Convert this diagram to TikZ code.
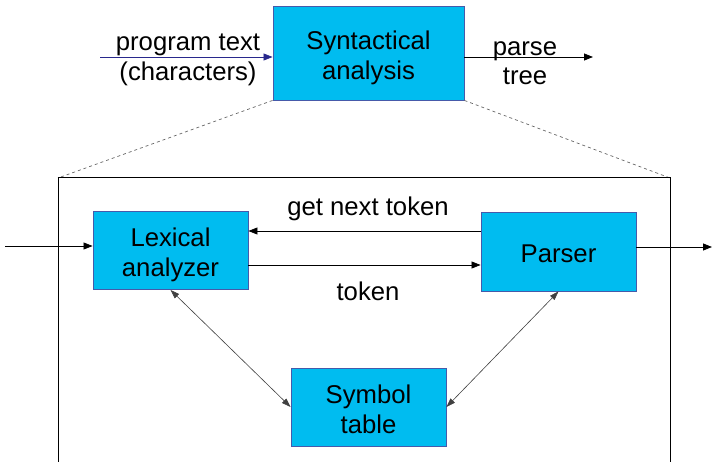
\documentclass[tikz,border=0pt]{standalone}
\usepackage{fontspec}
\setmainfont{Liberation Sans}
\usetikzlibrary{arrows.meta,calc}
\definecolor{boxfill}{RGB}{0,188,240}
\definecolor{boxline}{RGB}{70,90,170}
\definecolor{navy}{RGB}{40,40,140}
\newcommand{\bt}[2][-5.3pt]{\raisebox{#1}[\height][\depth]{\begin{tabular}{@{}c@{}}#2\end{tabular}}}
\begin{document}
\begin{tikzpicture}[x=1pt,y=-1pt,
  blk/.style={draw=boxline,fill=boxfill,line width=0.9pt,minimum width=155pt,minimum height=78pt,inner sep=0pt,align=center,font=\fontsize{25.7}{30}\selectfont},
  lbl/.style={anchor=base,inner sep=0pt,font=\fontsize{25.7}{30}\selectfont},
  arr/.style={-{Triangle[length=9pt,width=7pt]},line width=0.8pt},
  darr/.style={{Triangle[length=9pt,width=6pt]}-{Triangle[length=9pt,width=6pt]},line width=0.6pt,draw=black!75}]
\useasboundingbox (0,0) rectangle (712,462);
% top box
\node[blk,minimum width=191pt,minimum height=94pt] (syn) at (368.5,53) {\bt{Syntactical\\analysis}};
\coordinate (pin) at (100,57);
\coordinate (pout) at (593,57);
\draw[arr,draw=navy] (pin) -- (syn.west |- pin);
\draw[arr] (syn.east |- pout) -- (pout);
\node[lbl] (ptxt) at (188,51) {program text};
\node[lbl] (pchr) at (188,81) {(characters)};
\node[lbl] (pparse) at (525,56) {parse};
\node[lbl] (ptree) at (525,85) {tree};
% enclosing frame
\coordinate (ftl) at (58,178);
\coordinate (ftr) at (670,178);
\coordinate (fbl) at (58,462);
\coordinate (fbr) at (670,462);
\draw[dashed,draw=black!60,line width=0.7pt] (syn.south west) -- (ftl);
\draw[dashed,draw=black!60,line width=0.7pt] (syn.south east) -- (ftr);
\draw[line width=1pt] (fbl) -- (ftl) -- (ftr) -- (fbr);
% inner boxes
\node[blk] (lex) at (170.5,250.5) {\bt{Lexical\\analyzer}};
\node[blk,minimum height=79pt] (par) at (558.5,251.5) {\bt[-5pt]{Parser}};
\node[blk] (sym) at (368.5,407) {\bt{Symbol\\table}};
\draw[arr] (par.west |- 0,231) -- (lex.east |- 0,231);
\draw[arr] (lex.east |- 0,265) -- (par.west |- 0,265);
\node[lbl] (gnt) at (368,216) {get next token};
\node[lbl] (tok) at (368,301) {token};
\coordinate (in) at (5,246);
\coordinate (out) at (712,247);
\draw[arr] (in) -- (lex.west |- in);
\draw[arr] (par.east |- out) -- (out);
\draw[darr] (lex.south) -- (sym.west);
\draw[darr] (par.south) -- (sym.east);
\end{tikzpicture}
\end{document}
